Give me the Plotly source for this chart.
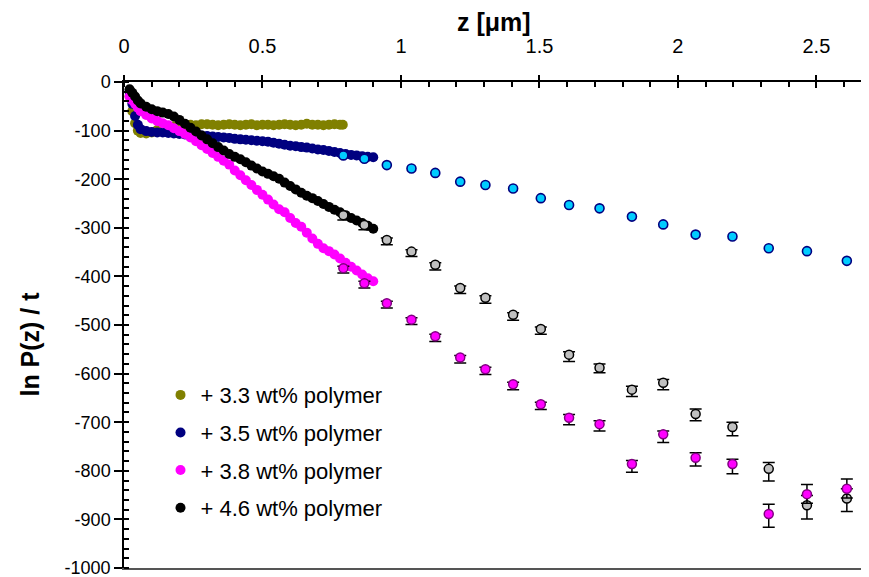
import plotly.graph_objects as go

# ---------------- data ----------------
dense_x = [0.02, 0.03, 0.04, 0.05, 0.06, 0.08, 0.10, 0.12, 0.14, 0.16, 0.18, 0.20,
           0.22, 0.24, 0.26, 0.28, 0.30, 0.32, 0.34, 0.36, 0.38, 0.40, 0.42, 0.44,
           0.46, 0.48, 0.50, 0.52, 0.54, 0.56, 0.58, 0.60, 0.62, 0.64, 0.66, 0.68,
           0.70, 0.72, 0.74, 0.76, 0.78, 0.80, 0.82, 0.84, 0.86, 0.88, 0.90]

olive_x = [0.02, 0.03, 0.04, 0.05, 0.06, 0.08, 0.10, 0.12, 0.14, 0.16, 0.18, 0.20,
           0.22, 0.24, 0.26, 0.28, 0.30, 0.32, 0.34, 0.36, 0.38, 0.40, 0.42, 0.44,
           0.46, 0.48, 0.50, 0.52, 0.54, 0.56, 0.58, 0.60, 0.62, 0.64, 0.66, 0.68,
           0.70, 0.72, 0.74, 0.76, 0.78, 0.79]
olive_y = [-30, -60, -85, -100, -105, -106, -104, -99, -95, -93, -91, -90,
           -89, -88, -89, -87, -87, -88, -89, -88, -87, -88, -89, -88,
           -87, -89, -88, -88, -89, -88, -87, -88, -89, -88, -86, -88,
           -88, -89, -88, -87, -88, -88]

navy_y = [-20, -45, -70, -88, -97, -101, -103, -104, -104, -105, -106, -107,
          -108, -109, -110, -110, -111, -112, -113, -114, -115, -117, -118, -119,
          -120, -121, -122, -123, -125, -127, -129, -131, -132, -134, -135, -137,
          -139, -140, -142, -144, -146, -148, -150, -151, -153, -154, -155]

magenta_y = [-30, -38, -45, -53, -60, -68, -75, -80, -85, -89, -95, -101,
             -107, -114, -122, -130, -138, -146, -154, -162, -170, -182, -192, -202,
             -212, -222, -232, -242, -252, -262, -268, -280, -290, -298, -310, -322,
             -333, -342, -348, -355, -363, -372, -380, -388, -396, -404, -410]

black_y = [-15, -22, -30, -38, -44, -51, -56, -60, -63, -66, -71, -78,
           -86, -94, -102, -110, -118, -126, -134, -141, -148, -154, -159, -165,
           -172, -178, -184, -189, -194, -199, -207, -214, -221, -228, -234, -239,
           -245, -251, -257, -263, -268, -274, -280, -285, -290, -296, -302]

sparse_x = [0.792, 0.868, 0.949, 1.038, 1.124, 1.214, 1.305, 1.405, 1.505,
            1.607, 1.717, 1.834, 1.947, 2.064, 2.197, 2.328, 2.466, 2.610]
lightblue_y = [-151, -158, -171, -178, -187, -205, -212, -219, -239,
               -253, -260, -277, -293, -314, -318, -342, -348, -368]
grey_y = [-274, -294, -325, -349, -376, -424, -444, -479, -508,
          -561, -588, -633, -619, -683, -710, -796, -871, -857]
grey_err_up = [4, 4, 4, 4, 4, 4, 4, 4, 4, 6, 8, 7, 7, 10, 10, 13, 20, 20]
grey_err_down = [10, 10, 10, 10, 11, 11, 11, 11, 11, 14, 10, 14, 14, 14, 18, 25, 28, 27]
pink_y = [-383, -414, -455, -489, -523, -567, -591, -622, -663,
          -691, -704, -786, -725, -773, -786, -889, -848, -837]
pink_err_up = [4, 4, 4, 4, 4, 4, 4, 4, 4, 7, 7, 7, 7, 10, 10, 20, 20, 20]
pink_err_down = [10, 10, 10, 10, 11, 11, 11, 11, 11, 14, 14, 17, 17, 17, 20, 27, 19, 19]

labels = ["+ 3.3 wt% polymer", "+ 3.5 wt% polymer", "+ 3.8 wt% polymer", "+ 4.6 wt% polymer"]

y_tick_vals = [0, -100, -200, -300, -400, -500, -600, -700, -800, -900, -1000]
y_tick_text = ["0", "-100", "-200", "-300", "-400", "-500", "-600", "-700", "-800", "-900", "-1000"]
x_tick_vals = [0, 0.5, 1, 1.5, 2, 2.5]
x_tick_text = ["0", "0.5", "1", "1.5", "2", "2.5"]

FONT = "Liberation Sans, Arial, sans-serif"

fig = go.Figure()

dense_size = 10
fig.add_trace(go.Scatter(x=olive_x, y=olive_y, mode="markers", name=labels[0],
                         legendgroup="a",
                         marker=dict(color="#808000", size=dense_size, line=dict(width=0))))
fig.add_trace(go.Scatter(x=dense_x, y=navy_y, mode="markers", name=labels[1],
                         legendgroup="b",
                         marker=dict(color="#000080", size=dense_size, line=dict(width=0))))
fig.add_trace(go.Scatter(x=dense_x, y=magenta_y, mode="markers", name=labels[2],
                         legendgroup="c",
                         marker=dict(color="#FF00FF", size=dense_size, line=dict(width=0))))
fig.add_trace(go.Scatter(x=dense_x, y=black_y, mode="markers", name=labels[3],
                         legendgroup="d",
                         marker=dict(color="#000000", size=dense_size, line=dict(width=0))))

# sparse points
fig.add_trace(go.Scatter(x=sparse_x, y=lightblue_y, mode="markers", showlegend=False,
                         marker=dict(color="#00CCFF", size=9, line=dict(color="#000080", width=1.6))))
fig.add_trace(go.Scatter(x=sparse_x, y=grey_y, mode="markers", showlegend=False,
                         error_y=dict(type="data", symmetric=False, array=grey_err_up,
                                      arrayminus=grey_err_down, color="black",
                                      thickness=1.5, width=6),
                         marker=dict(color="#C0C0C0", size=9, line=dict(color="black", width=1.5))))
fig.add_trace(go.Scatter(x=sparse_x, y=pink_y, mode="markers", showlegend=False,
                         error_y=dict(type="data", symmetric=False, array=pink_err_up,
                                      arrayminus=pink_err_down, color="black",
                                      thickness=1.5, width=6),
                         marker=dict(color="#FF00FF", size=9, line=dict(color="#800080", width=1.5))))

# dummy traces to realise overlay axes
fig.add_trace(go.Scatter(x=[None], y=[None], xaxis="x2", yaxis="y2",
                         showlegend=False, hoverinfo="skip"))
fig.add_trace(go.Scatter(x=[None], y=[None], xaxis="x3", yaxis="y",
                         showlegend=False, hoverinfo="skip"))

XR = [0, 2.69]
YR = [-1000, 0]

fig.update_layout(
    width=869, height=577,
    margin=dict(l=116, r=8, t=74, b=17, autoexpand=False),
    paper_bgcolor="white", plot_bgcolor="white",
    font=dict(family=FONT, color="black", size=18),
    showlegend=True,
    legend=dict(x=0.049, y=0.399, xanchor="left", yanchor="top",
                font=dict(size=22, family=FONT, color="black"),
                traceorder="grouped", tracegroupgap=6,
                bgcolor="rgba(0,0,0,0)", itemwidth=30),
    xaxis=dict(side="top", range=XR, tickmode="array", tickvals=x_tick_vals, ticktext=x_tick_text,
               showgrid=False, zeroline=False,
               showline=True, linecolor="black", linewidth=1.5, automargin=False,
               ticks="outside", ticklen=5, tickwidth=1.5, tickcolor="black",
               ticklabelstandoff=14, tickfont=dict(size=20),
               minor=dict(dtick=0.1, tick0=0, ticks="inside", ticklen=5, tickwidth=1.5,
                          tickcolor="black", showgrid=False),
               anchor="y"),
    yaxis=dict(range=YR, tickmode="array", tickvals=y_tick_vals, ticktext=y_tick_text,
               showgrid=False, zeroline=False,
               showline=True, linecolor="black", linewidth=1.5, automargin=False,
               ticks="outside", ticklen=8, tickwidth=1.5, tickcolor="black",
               tickfont=dict(size=18),
               minor=dict(dtick=20, tick0=0, ticks="inside", ticklen=5, tickwidth=1.5,
                          tickcolor="black", showgrid=False),
               anchor="x"),
    xaxis2=dict(overlaying="x", side="top", range=XR, tickmode="array", tickvals=x_tick_vals,
                showgrid=False, zeroline=False, showline=False, ticks="inside", ticklen=6,
                tickwidth=1.5, tickcolor="black", showticklabels=False, anchor="y2",
                automargin=False),
    yaxis2=dict(overlaying="y", side="left", range=YR, tickmode="array", tickvals=y_tick_vals,
                showgrid=False, zeroline=False, showline=False, ticks="inside", ticklen=5,
                tickwidth=1.5, tickcolor="black", showticklabels=False, anchor="x2",
                automargin=False),
    xaxis3=dict(overlaying="x", side="bottom", range=XR, showgrid=False, zeroline=False,
                showline=True, linecolor="#555555", linewidth=1.5, ticks="",
                showticklabels=False, anchor="y", automargin=False),
    annotations=[
        dict(text="<b>z [μm]</b>", xref="paper", yref="paper", x=0.497, y=1,
             yshift=60, xanchor="center", yanchor="middle", showarrow=False,
             font=dict(size=25, family=FONT, color="black")),
        dict(text="<b>ln P(z) / t</b>", xref="paper", yref="paper", x=-0.126, y=0.46,
             xanchor="center", yanchor="middle", textangle=-90, showarrow=False,
             font=dict(size=25, family=FONT, color="black")),
    ],
)

fig.write_html("out.html")
